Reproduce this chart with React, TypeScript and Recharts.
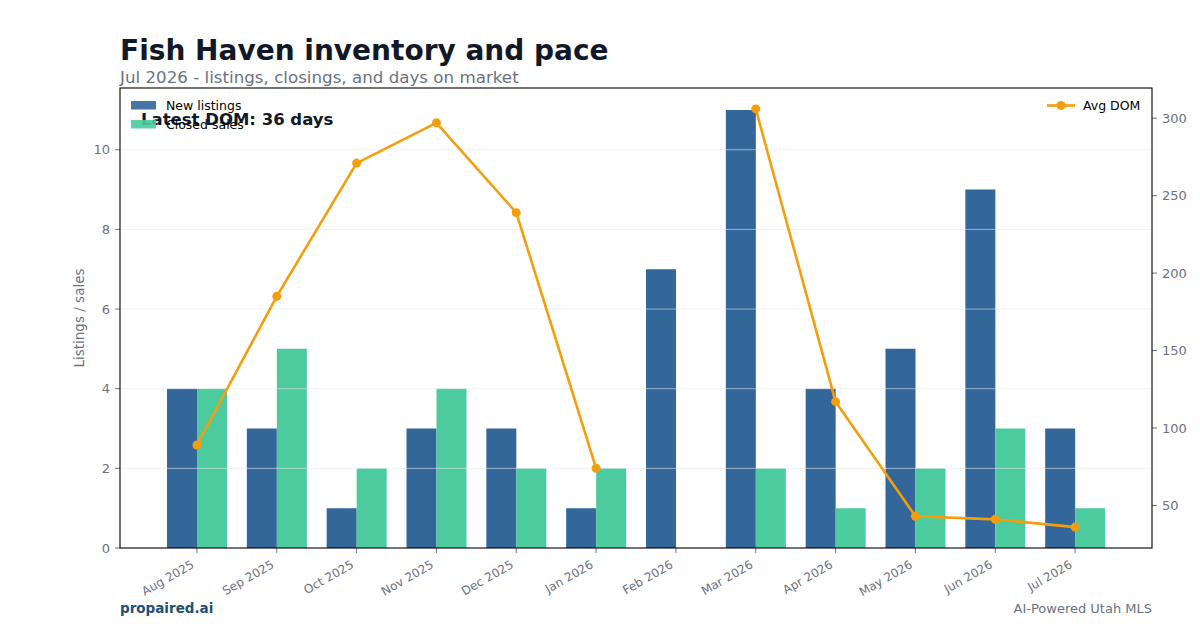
import React from 'react';
import { ComposedChart, Bar, Line, XAxis, YAxis, ReferenceLine } from 'recharts';

// Monthly inventory for Fish Haven
const months = [
  'Aug 2025', 'Sep 2025', 'Oct 2025', 'Nov 2025', 'Dec 2025', 'Jan 2026',
  'Feb 2026', 'Mar 2026', 'Apr 2026', 'May 2026', 'Jun 2026', 'Jul 2026',
];
const newListings = [4, 3, 1, 3, 3, 1, 7, 11, 4, 5, 9, 3];
const closedSales = [4, 5, 2, 4, 2, 2, 0, 2, 1, 2, 3, 1];
// no closings in Feb, so no DOM value there
const avgDom: (number | null)[] = [89, 185, 271, 297, 239, 74, null, 306, 117, 43, 41, 36];

const countTicks = [0, 2, 4, 6, 8, 10];
const gridTicks = [2, 4, 6, 8, 10];
const domTicks = [50, 100, 150, 200, 250, 300];

const data = months.map((month, i) => ({
  month,
  newListings: newListings[i],
  closedSales: closedSales[i],
  avgDom: avgDom[i],
}));

const latestDom = avgDom[avgDom.length - 1];

const BLUE = '#336699';
const GREEN = '#4ccb9f';
const ORANGE = '#f59e0b';
const MUTED = '#6b7280';
const INK = '#111827';
const FONT = "'DejaVu Sans', sans-serif";

const MonthTick = ({ x, y, payload }: any) => {
  const tx = x - 2;
  const ty = y + 14;
  return (
    <text x={tx} y={ty} textAnchor="end" fontSize={12} fill={MUTED} fontFamily={FONT} transform={`rotate(-30, ${tx}, ${ty})`}>
      {payload.value}
    </text>
  );
};

const App: React.FC = () => {
  return (
    <div style={{ position: 'relative', width: 1200, height: 630, margin: -8, background: '#fff', fontFamily: FONT }}>
      <ComposedChart
        width={1200}
        height={630}
        data={data}
        margin={{ top: 88, right: 8, bottom: 22, left: 60 }}
        barGap={0}
      >
        <XAxis
          dataKey="month"
          height={60}
          interval={0}
          padding={{ left: 37, right: 37 }}
          axisLine={false}
          tickSize={5}
          tickMargin={0}
          tickLine={{ stroke: MUTED }}
          tick={<MonthTick />}
        />
        <YAxis
          yAxisId="left"
          width={60}
          domain={[0, 11.55]}
          ticks={countTicks}
          allowDataOverflow
          axisLine={false}
          tickSize={5}
          tickMargin={5}
          tickLine={{ stroke: MUTED }}
          tick={{ fill: MUTED, fontSize: 13, fontFamily: FONT }}
        />
        <YAxis
          yAxisId="right"
          orientation="right"
          width={40}
          domain={[22.5, 319.5]}
          ticks={domTicks}
          allowDataOverflow
          axisLine={false}
          tickSize={5}
          tickMargin={5}
          tickLine={{ stroke: MUTED }}
          tick={{ fill: MUTED, fontSize: 13, fontFamily: FONT }}
        />
        <Bar yAxisId="left" dataKey="newListings" fill={BLUE} barSize={30} isAnimationActive={false} />
        <Bar yAxisId="left" dataKey="closedSales" fill={GREEN} barSize={30} isAnimationActive={false} />
        {gridTicks.map((t) => (
          <ReferenceLine key={t} yAxisId="left" y={t} stroke="#e5e7eb" strokeOpacity={0.6} strokeWidth={1} zIndex={350} />
        ))}
        <Line
          yAxisId="right"
          dataKey="avgDom"
          stroke={ORANGE}
          strokeWidth={2.6}
          dot={{ r: 4.5, fill: ORANGE, stroke: ORANGE, strokeWidth: 0 }}
          activeDot={false}
          connectNulls={false}
          isAnimationActive={false}
        />
      </ComposedChart>

      <svg width={1200} height={630} style={{ position: 'absolute', left: 0, top: 0, pointerEvents: 'none' }} fontFamily={FONT}>
        <rect x={120} y={88} width={1032} height={460} fill="none" stroke="#000" strokeWidth={1.1} />

        <text x={120} y={60} fontSize={28} fontWeight="bold" fill={INK}>Fish Haven inventory and pace</text>
        <text x={120} y={83} fontSize={16.7} fill={MUTED}>Jul 2026 - listings, closings, and days on market</text>

        <text x={141} y={125} fontSize={16.5} fontWeight="bold" fill={INK}>{`Latest DOM: ${latestDom} days`}</text>

        {/* bar legend */}
        <rect x={131} y={101} width={25} height={8.5} fill={BLUE} fillOpacity={0.9} />
        <text x={166} y={109.5} fontSize={12.5} fill="#000">New listings</text>
        <rect x={131} y={120} width={25} height={8.5} fill={GREEN} fillOpacity={0.9} />
        <text x={166} y={128.5} fontSize={12.5} fill="#000">Closed sales</text>

        {/* line legend */}
        <line x1={1047} x2={1075} y1={105.5} y2={105.5} stroke={ORANGE} strokeWidth={2.6} />
        <circle cx={1061} cy={105.5} r={4.5} fill={ORANGE} />
        <text x={1083} y={110} fontSize={12.5} fill="#000">Avg DOM</text>

        <text x={84} y={318} fontSize={13.5} fill={MUTED} textAnchor="middle" transform="rotate(-90, 84, 318)">Listings / sales</text>
        <text x={1203} y={318} fontSize={13.5} fill={MUTED} textAnchor="middle" transform="rotate(-90, 1203, 318)">Avg days on market</text>

        <text x={120} y={613} fontSize={13.5} fontWeight="bold" fill="#1f4e79">propaired.ai</text>
        <text x={1152} y={613} fontSize={13} fill={MUTED} textAnchor="end">AI-Powered Utah MLS</text>
      </svg>
    </div>
  );
};

export default App;
